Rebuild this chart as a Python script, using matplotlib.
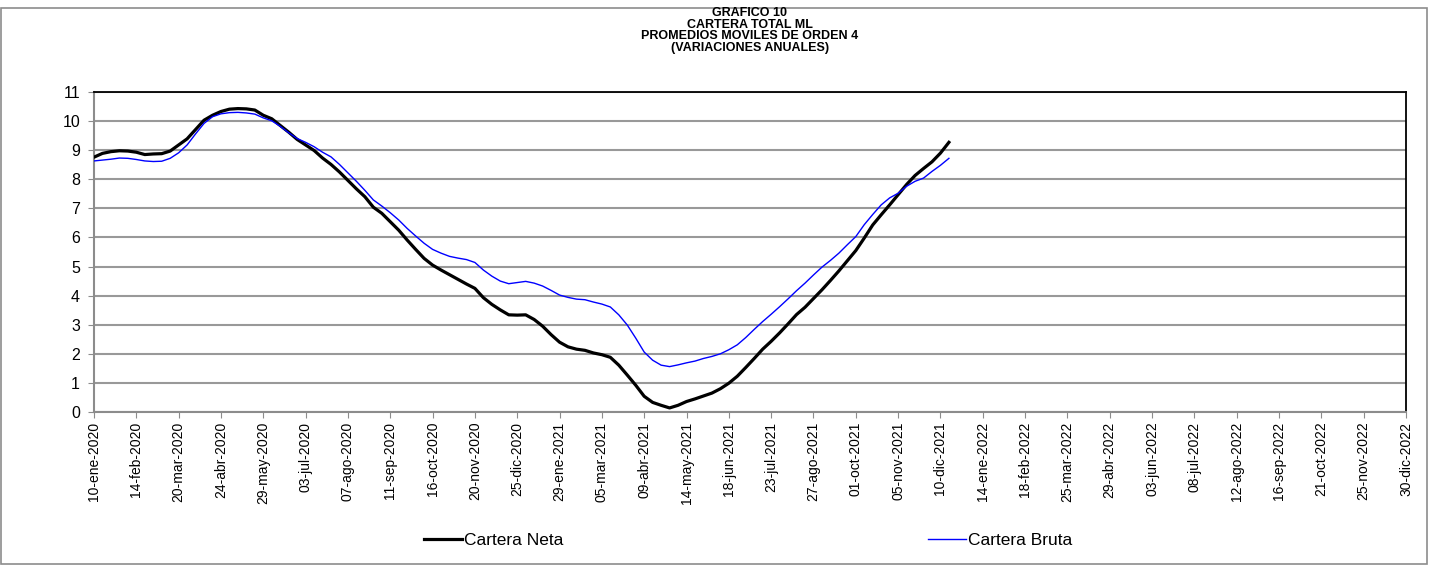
import pandas as pd
import matplotlib.pyplot as plt
from matplotlib.patches import Rectangle

# Weekly values (moving average of order 4, annual variation %)
cartera_neta = [
    8.76, 8.89, 8.95, 8.98, 8.97, 8.93, 8.85, 8.87, 8.88, 8.97,
    9.18, 9.39, 9.71, 10.03, 10.20, 10.33, 10.41, 10.43, 10.42, 10.38,
    10.20, 10.08, 9.85, 9.62, 9.37, 9.18, 8.99, 8.73, 8.51, 8.25,
    7.96, 7.67, 7.40, 7.04, 6.83, 6.54, 6.25, 5.91, 5.59, 5.28,
    5.05, 4.88, 4.72, 4.56, 4.40, 4.25, 3.93, 3.70, 3.51, 3.34,
    3.33, 3.34, 3.18, 2.95, 2.66, 2.40, 2.24, 2.16, 2.12, 2.03,
    1.97, 1.88, 1.61, 1.27, 0.92, 0.54, 0.33, 0.23, 0.14, 0.23,
    0.36, 0.45, 0.55, 0.65, 0.80, 0.99, 1.23, 1.53, 1.84, 2.16,
    2.43, 2.72, 3.03, 3.35, 3.60, 3.90, 4.20, 4.52, 4.85, 5.20,
    5.55, 5.98, 6.43, 6.78, 7.12, 7.47, 7.82, 8.13, 8.37, 8.60,
    8.90, 9.27,
]
cartera_bruta = [
    8.63, 8.66, 8.69, 8.73, 8.72, 8.68, 8.63, 8.61, 8.62, 8.72,
    8.91, 9.18, 9.56, 9.92, 10.15, 10.25, 10.29, 10.30, 10.28, 10.24,
    10.11, 10.01, 9.82, 9.60, 9.40, 9.27, 9.12, 8.93, 8.77, 8.51,
    8.22, 7.93, 7.62, 7.29, 7.08, 6.85, 6.60, 6.31, 6.05, 5.80,
    5.59, 5.46, 5.35, 5.29, 5.24, 5.14, 4.88, 4.67, 4.50, 4.41,
    4.45, 4.49, 4.43, 4.33, 4.18, 4.02, 3.94, 3.88, 3.86, 3.78,
    3.71, 3.61, 3.34, 2.99, 2.54, 2.06, 1.78, 1.61, 1.56, 1.62,
    1.69, 1.75, 1.84, 1.91, 2.00, 2.14, 2.31, 2.56, 2.84, 3.11,
    3.36, 3.62, 3.89, 4.17, 4.43, 4.71, 4.98, 5.21, 5.46, 5.75,
    6.03, 6.44, 6.79, 7.12, 7.36, 7.52, 7.76, 7.93, 8.04, 8.27,
    8.48, 8.72,
]
meses = ["ene", "feb", "mar", "abr", "may", "jun",
         "jul", "ago", "sep", "oct", "nov", "dic"]

fechas = pd.date_range("2020-01-10", periods=len(cartera_neta), freq="7D")
eje_fechas = pd.date_range("2020-01-10", "2022-12-30", freq="35D")
etiquetas = [f"{d.day:02d}-{meses[d.month - 1]}-{d.year}" for d in eje_fechas]

plt.rcParams["font.family"] = ["Liberation Sans", "DejaVu Sans"]

fig = plt.figure(figsize=(14.29, 5.65), dpi=100)
ax = fig.add_axes([94 / 1429, 1 - 412 / 565, (1406 - 94) / 1429, 320 / 565])

# outer chart frame
fig.patches.append(Rectangle((1 / 1429, 0.002), 1426 / 1429, 1 - 9 / 565,
                             transform=fig.transFigure, fill=False,
                             edgecolor="#8c8c8c", lw=1.2))

ax.plot(fechas, cartera_neta, color="black", lw=2.3, label="Cartera Neta",
        solid_joinstyle="round", zorder=3)
ax.plot(fechas, cartera_bruta, color="#0000ff", lw=1.0, label="Cartera Bruta",
        zorder=4)

ax.set_ylim(0, 11)
ax.set_yticks(range(0, 12))
ax.set_xlim(eje_fechas[0], eje_fechas[-1])
ax.set_xticks(eje_fechas)
ax.set_xticklabels(etiquetas, rotation=90, fontsize=10)
ax.tick_params(axis="y", labelsize=11.5, length=4, color="#8c8c8c", pad=6)
ax.tick_params(axis="x", length=4, color="#8c8c8c", pad=3)

ax.grid(axis="y", color="#999999", lw=1.5)
ax.set_axisbelow(True)
for lado in ["left", "bottom"]:
    ax.spines[lado].set_color("#8c8c8c")
    ax.spines[lado].set_linewidth(1.5)
for lado in ["top", "right"]:
    ax.spines[lado].set_color("black")
    ax.spines[lado].set_linewidth(1.3)

fig.text(750 / 1429, 1 - 7 / 565,
         "GRAFICO 10\nCARTERA TOTAL ML\nPROMEDIOS MOVILES DE ORDEN 4\n(VARIACIONES ANUALES)",
         ha="center", va="top", fontsize=9, fontweight="bold", linespacing=0.95)

# legend entries placed separately, as in the original
h1, h2 = ax.get_lines()
fuente = {"family": ["Liberation Sans Narrow", "Liberation Sans"], "size": 12.5}
leg1 = fig.legend([h1], ["Cartera Neta"], loc="center left",
                  bbox_to_anchor=(408 / 1429, 1 - 540 / 565), frameon=False,
                  prop=fuente, handlelength=2.2, handletextpad=0.1)
leg2 = fig.legend([h2], ["Cartera Bruta"], loc="center left",
                  bbox_to_anchor=(912 / 1429, 1 - 540 / 565), frameon=False,
                  prop=fuente, handlelength=2.2, handletextpad=0.1)

fig.savefig("out.png", dpi=100)
